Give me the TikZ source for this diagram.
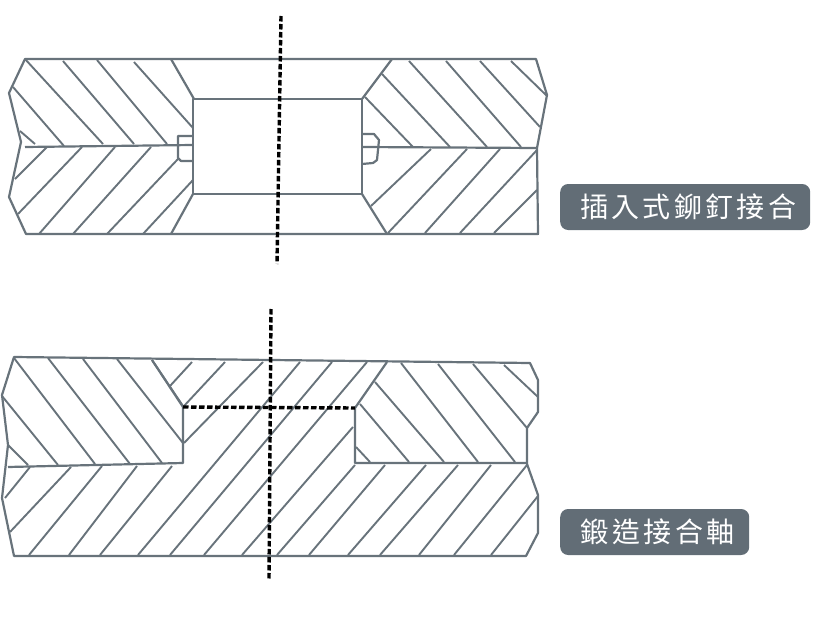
\documentclass[tikz,border=0pt]{standalone}
\usepackage{fontspec}
\newfontfamily\cjk[LetterSpace=12]{Noto Sans CJK TC}
\definecolor{partgray}{HTML}{68737B}
\definecolor{boxgray}{HTML}{626D76}
\tikzset{
    part/.style={draw=partgray, line width=2.2pt, line join=round},
    hatch/.style={draw=partgray, line width=1.9pt},
    axis/.style={draw=black, line width=3.4pt, dash pattern=on 5.5pt off 2.5pt},
    tag/.style={fill=boxgray, rounded corners=8pt, text=white, font=\cjk\fontsize{28}{32}\selectfont,
        inner sep=0pt, minimum height=46pt, anchor=west, align=center}
}
\begin{document}
\begin{tikzpicture}[x=1pt, y=-1pt]
    \useasboundingbox (0,0) rectangle (836,626);

    % Riveted joint: outline
    \draw[part] (25,59) -- (536,59) -- (547,95) -- (537,148) -- (538,234) -- (26,234)
        -- (9,197) -- (21,142) -- (9,93) -- cycle;
    \draw[part] (193,99) rectangle (362,194);
    % Chamfers
    \draw[part] (171,59) -- (194,99);
    \draw[part] (171,234) -- (193,194);
    \draw[part] (392,59) -- (362,99);
    \draw[part] (387,234) -- (362,194);
    % Joint line
    \draw[part] (25,147) -- (193,145);
    \draw[part] (362,147) -- (537,148);
    % Rivet ends
    \draw[part] (193,136) -- (178,136) -- (178,158) -- (181,161) -- (193,161);
    \draw[part] (362,134) -- (374,134) -- (379,140) -- (377,160) -- (373,163) -- (362,164);
    % Hatching, upper plate
    \foreach \xa/\ya/\xb/\yb in {25/59/103/144, 63/61/134/144, 97/60/167/144, 134/62/193/128,
        13/87/64/146, 20/131/35/144, 365/97/413/147, 382/74/450/147, 409/61/487/147,
        446/61/521/147, 480/61/540/127, 511/61/547/96}
    {
        \draw[hatch] (\xa,\ya) -- (\xb,\yb);
    }
    % Hatching, lower plate
    \foreach \xa/\ya/\xb/\yb in {47/147/15/179, 82/147/18/214, 115/147/39/234, 151/147/73/234,
        178/159/107/234, 193/180/143/234, 431/149/371/206, 467/149/388/233, 500/149/425/233,
        537/150/460/233, 537/190/494/233}
    {
        \draw[hatch] (\xa,\ya) -- (\xb,\yb);
    }
    % Centre line
    \draw[axis] (281,16) -- (277,264);
    \node[tag, minimum width=250pt, text width=250pt] (rivettag) at (560,207) {\hspace*{6pt}\raisebox{1pt}{插入式鉚釘接合}};

    % Forged joint: outline
    \draw[part] (14,357) -- (530,363) -- (538,380) -- (538,412) -- (527,428) -- (527,464)
        -- (538,495) -- (538,533) -- (526,556) -- (14,556) -- (2,498) -- (8,445) -- (2,395) -- cycle;
    % Shaft step
    \draw[part] (8,467) -- (183,463) -- (183,407) -- (152,360);
    \draw[part] (527,463) -- (355,463) -- (355,408) -- (387,362);
    % Hatching, upper parts
    \foreach \xa/\ya/\xb/\yb in {14/358/95/464, 48/358/130/464, 83/359/162/463, 117/359/183/443,
        152/360/183/406, 2/396/58/465, 8/445/28/465, 375/382/444/462, 360/404/409/462,
        356/447/370/462, 401/363/478/462, 438/364/515/462, 473/364/527/428, 504/365/538/397}
    {
        \draw[hatch] (\xa,\ya) -- (\xb,\yb);
    }
    % Hatching, shaft
    \foreach \xa/\ya/\xb/\yb in {192/362/170/386, 225/362/184/406, 263/362/184/443, 300/362/138/555,
        332/362/170/555, 367/362/204/555, 353/427/242/555, 355/465/277/555, 385/465/309/555,
        426/465/348/555, 458/465/380/555, 491/465/419/555, 527/465/454/555, 538/496/491/555,
        30/467/5/498, 71/467/10/532, 102/466/29/555, 137/466/69/555, 172/466/100/555}
    {
        \draw[hatch] (\xa,\ya) -- (\xb,\yb);
    }
    % Centre lines
    \draw[axis] (183,407) -- (355,408);
    \draw[axis] (271,309) -- (269,580);
    \node[tag, minimum width=189pt, text width=189pt] (forgetag) at (560,532) {\hspace*{6pt}\raisebox{1pt}{鍛造接合軸}};
\end{tikzpicture}
\end{document}
